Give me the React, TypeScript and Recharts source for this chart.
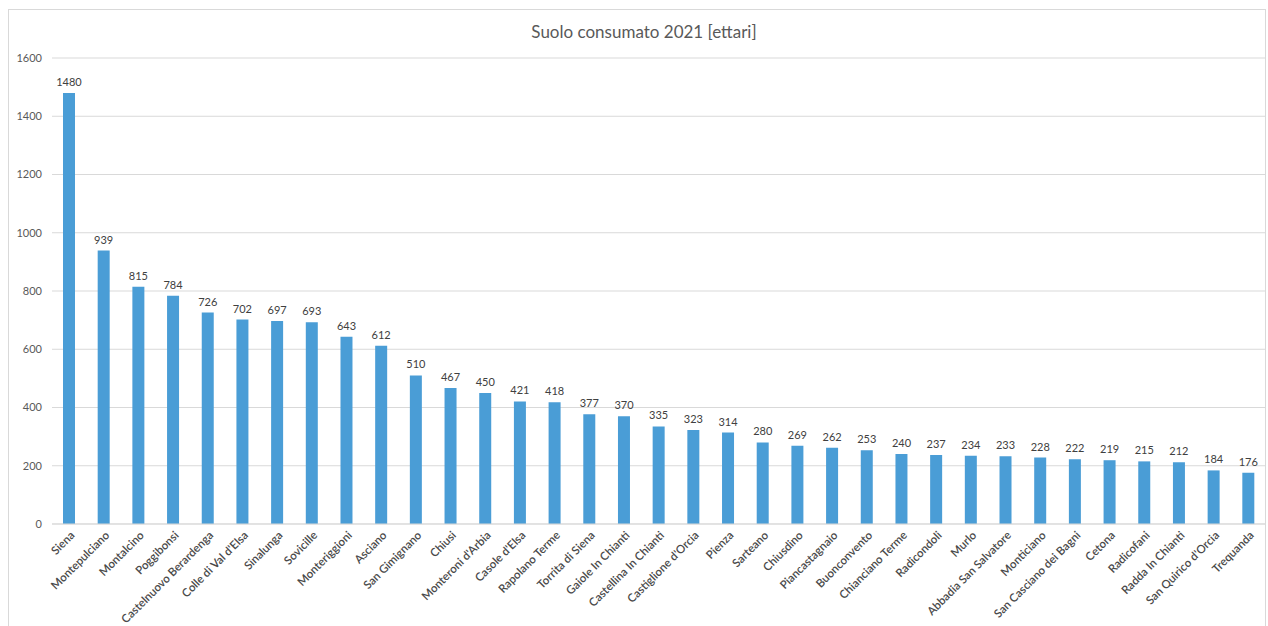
import React from 'react';
import { BarChart, Bar, XAxis, YAxis, CartesianGrid, LabelList } from 'recharts';

const comuni = [
  'Siena', 'Montepulciano', 'Montalcino', 'Poggibonsi', 'Castelnuovo Berardenga',
  "Colle di Val d'Elsa", 'Sinalunga', 'Sovicille', 'Monteriggioni', 'Asciano',
  'San Gimignano', 'Chiusi', "Monteroni d'Arbia", "Casole d'Elsa", 'Rapolano Terme',
  'Torrita di Siena', 'Gaiole In Chianti', 'Castellina In Chianti', "Castiglione d'Orcia", 'Pienza',
  'Sarteano', 'Chiusdino', 'Piancastagnaio', 'Buonconvento', 'Chianciano Terme',
  'Radicondoli', 'Murlo', 'Abbadia San Salvatore', 'Monticiano', 'San Casciano dei Bagni',
  'Cetona', 'Radicofani', 'Radda In Chianti', "San Quirico d'Orcia", 'Trequanda',
];

const ettari = [
  1480, 939, 815, 784, 726,
  702, 697, 693, 643, 612,
  510, 467, 450, 421, 418,
  377, 370, 335, 323, 314,
  280, 269, 262, 253, 240,
  237, 234, 233, 228, 222,
  219, 215, 212, 184, 176,
];

const yTicks = [0, 200, 400, 600, 800, 1000, 1200, 1400, 1600];

const titolo = 'Suolo consumato 2021 [ettari]';

const data = comuni.map((c, i) => ({ name: c, value: ettari[i] }));

const FONT = 'Lato, "Open Sans", sans-serif';

const CategoryTick = (props: any) => {
  const { x, y, payload } = props;
  return (
    <g transform={`translate(${x + 6},${y + 4})`}>
      <text
        x={0}
        y={0}
        textAnchor="end"
        transform="rotate(-45)"
        fontSize={11.5}
        fontWeight={600}
        fontFamily={FONT}
        fill="#4a4a4a"
      >
        {payload.value}
      </text>
    </g>
  );
};

export default function App() {
  return (
    <div style={{ position: 'absolute', left: 0, top: 0, width: 1268, height: 626, background: '#fff', overflow: 'hidden', fontFamily: FONT }}>
      <div style={{ position: 'absolute', left: 8, top: 9, width: 1258, height: 700, border: '1px solid #d9d9d9', boxSizing: 'border-box' }} />
      <div style={{ position: 'absolute', left: 0, top: 21, width: 1288, textAlign: 'center', fontSize: 17, color: '#595959' }}>
        {titolo}
      </div>
      <div style={{ position: 'absolute', left: 0, top: 0 }}>
        <BarChart
          width={1268}
          height={626}
          data={data}
          margin={{ top: 58, right: 2, bottom: 0, left: 0 }}
          barCategoryGap={0}
        >
          <CartesianGrid vertical={false} stroke="#d9d9d9" strokeWidth={1} />
          <XAxis
            dataKey="name"
            interval={0}
            height={102}
            tick={<CategoryTick />}
            tickLine={false}
            axisLine={{ stroke: '#d9d9d9' }}
          />
          <YAxis
            width={52}
            domain={[0, 1600]}
            ticks={yTicks}
            tickLine={false}
            axisLine={false}
            tickSize={0}
            tickMargin={10}
            tick={{ fontSize: 11, fill: '#595959', fontFamily: FONT }}
          />
          <Bar dataKey="value" fill="#4a9dd6" barSize={12} isAnimationActive={false}>
            <LabelList
              dataKey="value"
              position="top"
              offset={7}
              style={{ fontSize: 11, fill: '#404040', fontFamily: FONT }}
            />
          </Bar>
        </BarChart>
      </div>
    </div>
  );
}
